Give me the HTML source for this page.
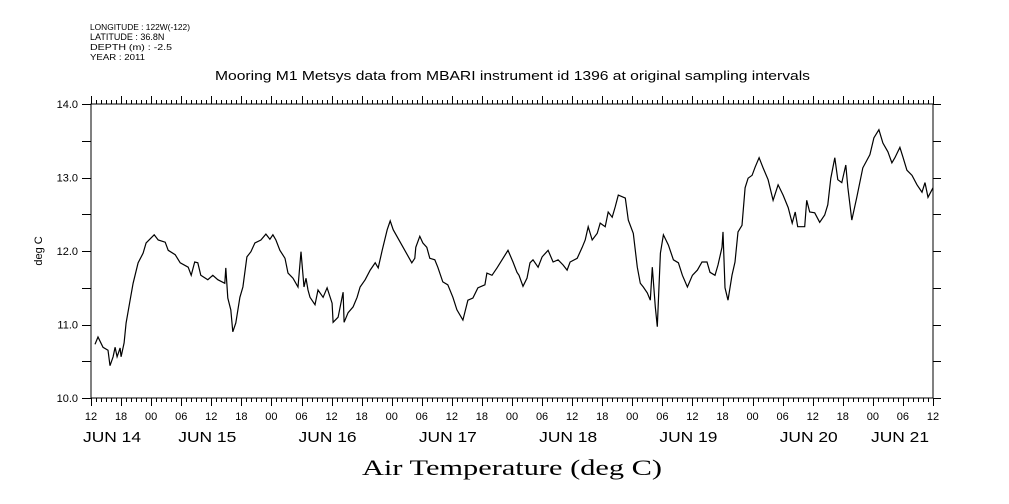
<!DOCTYPE html>
<html><head><meta charset="utf-8"><style>
html,body{margin:0;padding:0;background:#fff;}
svg{display:block;font-family:"Liberation Sans",sans-serif;}
</style></head><body>
<svg id="chart" width="1009" height="504" viewBox="0 0 1009 504">
<g font-size="8.5" fill="#000">
<text x="90" y="30" textLength="100" lengthAdjust="spacingAndGlyphs">LONGITUDE : 122W(-122)</text>
<text x="90" y="40" font-size="9">LATITUDE : 36.8N</text>
<text x="90" y="50" textLength="82" lengthAdjust="spacingAndGlyphs">DEPTH (m) : -2.5</text>
<text x="90" y="60" textLength="55" lengthAdjust="spacingAndGlyphs">YEAR : 2011</text>
</g>
<text x="215" y="80" font-size="12.5" textLength="595" lengthAdjust="spacingAndGlyphs">Mooring M1 Metsys data from MBARI instrument id 1396 at original sampling intervals</text>
<text transform="translate(42,251) rotate(-90)" text-anchor="middle" font-size="11">deg C</text>
<text x="512" y="475" text-anchor="middle" font-family="'Liberation Serif',serif" font-size="22" textLength="300" lengthAdjust="spacingAndGlyphs">Air Temperature (deg C)</text>
<g id="axes"></g>
<g id="series"></g>
</svg>
<script>
const hours = [0.8,1.4,2.4,3.4,3.8,4.4,4.8,5.2,5.8,6.0,6.6,7.0,7.8,8.4,9.4,10.4,11.0,12.6,13.4,14.8,15.4,16.8,17.8,19.4,20.0,20.7,21.3,21.9,23.3,24.3,25.3,26.7,26.9,27.3,27.9,28.3,28.9,29.7,30.3,31.1,31.9,32.7,33.9,34.9,35.7,36.3,36.9,37.7,38.7,39.3,40.3,41.3,41.9,42.5,42.9,43.3,43.7,44.7,45.3,46.3,47.1,48.1,48.3,49.3,50.3,50.5,51.3,52.3,53.1,53.7,54.7,55.7,56.7,57.3,58.1,59.1,59.7,60.3,64.0,64.6,64.8,65.6,66.2,67.0,67.6,68.6,69.2,70.2,71.2,72.2,73.0,74.2,75.2,76.2,77.2,78.6,79.0,80.0,81.0,82.2,83.2,84.2,85.0,85.4,86.2,87.0,87.6,88.2,89.2,90.0,91.2,92.2,93.2,94.2,95.0,95.6,97.0,98.0,98.6,99.2,100.0,101.0,101.6,102.6,103.2,104.0,104.6,105.2,106.6,107.2,108.2,109.0,109.6,110.2,111.0,111.6,112.0,112.6,113.0,113.6,114.2,115.2,116.2,117.2,118.0,119.0,120.0,121.0,121.9,122.9,123.5,124.5,125.1,125.9,126.1,126.5,127.1,127.9,128.5,129.1,129.9,130.5,131.1,131.9,132.5,133.3,134.1,135.1,136.1,137.1,138.1,139.1,139.9,140.5,141.0,142.4,142.8,143.4,144.4,145.4,146.4,147.0,147.6,148.4,149.0,149.8,150.6,151.0,151.8,152.8,154.0,155.4,156.2,157.2,158.0,159.0,159.8,160.4,161.4,162.0,162.8,163.8,164.8,165.8,166.4,167.0,168.0];
const temps = [10.73,10.83,10.69,10.65,10.44,10.56,10.69,10.56,10.68,10.56,10.75,11.02,11.33,11.56,11.84,11.97,12.11,12.22,12.15,12.12,12.01,11.95,11.84,11.78,11.67,11.85,11.84,11.67,11.61,11.67,11.61,11.56,11.77,11.36,11.20,10.90,11.02,11.37,11.51,11.92,11.99,12.11,12.15,12.23,12.16,12.22,12.15,12.01,11.90,11.70,11.63,11.51,11.99,11.51,11.63,11.47,11.37,11.27,11.47,11.37,11.50,11.29,11.03,11.10,11.44,11.03,11.16,11.24,11.37,11.51,11.61,11.74,11.84,11.77,12.01,12.29,12.41,12.29,11.84,11.90,12.05,12.20,12.11,12.05,11.90,11.88,11.78,11.58,11.54,11.37,11.20,11.06,11.33,11.36,11.50,11.54,11.70,11.67,11.77,11.90,12.01,11.85,11.71,11.67,11.52,11.63,11.84,11.88,11.78,11.92,12.01,11.85,11.88,11.81,11.74,11.85,11.90,12.05,12.15,12.33,12.15,12.24,12.38,12.33,12.53,12.46,12.60,12.76,12.72,12.42,12.24,11.78,11.56,11.51,11.43,11.33,11.78,11.24,10.97,11.97,12.22,12.08,11.88,11.84,11.67,11.51,11.67,11.74,11.85,11.85,11.71,11.67,11.81,12.05,12.26,11.50,11.33,11.67,11.85,12.26,12.35,12.86,12.99,13.03,13.14,13.27,13.13,12.97,12.69,12.90,12.76,12.59,12.38,12.53,12.33,12.33,12.69,12.53,12.52,12.39,12.49,12.63,12.99,13.27,12.97,12.93,13.17,12.87,12.42,12.73,13.13,13.31,13.54,13.65,13.47,13.35,13.20,13.27,13.41,13.28,13.10,13.03,12.90,12.80,12.93,12.73,12.86];
const yTicks = ["10.0","11.0","12.0","13.0","14.0"];
const hourLabels = ["12","18","00","06"];
const dayLabels = ["JUN 14","JUN 15","JUN 16","JUN 17","JUN 18","JUN 19","JUN 20","JUN 21"];

const L=91,R=933,T=104,B=398,H0=0,H1=168,V0=10,V1=14;
const xs=h=>L+(h-H0)/(H1-H0)*(R-L);
const ys=v=>B-(v-V0)/(V1-V0)*(B-T);
const NS="http://www.w3.org/2000/svg";
const axes=document.getElementById('axes'), series=document.getElementById('series');
function mk(tag,attrs,parent){const e=document.createElementNS(NS,tag);for(const k in attrs)e.setAttribute(k,attrs[k]);parent.appendChild(e);return e;}

const frame=mk('rect',{x:L,y:T,width:R-L,height:B-T,fill:'none',stroke:'#000','stroke-width':1},axes);



let td='';
for(let h=H0;h<=H1;h++){const x=Math.round(xs(h))+0.5;const major=h%6===0;
 td+=`M${x},${B}V${B+(major?8:4)}M${x},${T}V${T-(major?8:4)}`;}
for(let v=V0;v<=V1+1e-9;v+=0.5){const y=Math.round(ys(v))+0.5;td+=`M${L-9},${y}H${L}M${R},${y}H${R+8}`;}
const ticks=mk('path',{d:td,stroke:'#000','stroke-width':1,fill:'none'},axes);



yTicks.forEach(t=>{const e=mk('text',{x:L-13,y:ys(parseFloat(t))+4,'text-anchor':'end','font-size':11},axes);e.textContent=t;
 
 });

for(let h=H0,i=0;h<=H1;h+=6,i++){const e=mk('text',{x:xs(h),y:420,'text-anchor':'middle','font-size':11},axes);e.textContent=hourLabels[i%4];
 
 }

dayLabels.forEach((d,i)=>{let cx=xs(i*24)-4;
 if(i===0)cx=112; if(i===dayLabels.length-1)cx=900;
 const e=mk('text',{x:cx,y:442,'text-anchor':'middle','font-size':15,textLength:58,lengthAdjust:'spacingAndGlyphs'},axes);e.textContent=d;
 
 });

const line=mk('polyline',{points:hours.map((h,i)=>xs(h).toFixed(1)+','+ys(temps[i]).toFixed(1)).join(' '),fill:'none',stroke:'#000','stroke-width':1.2},series);


</script>
</body></html>
